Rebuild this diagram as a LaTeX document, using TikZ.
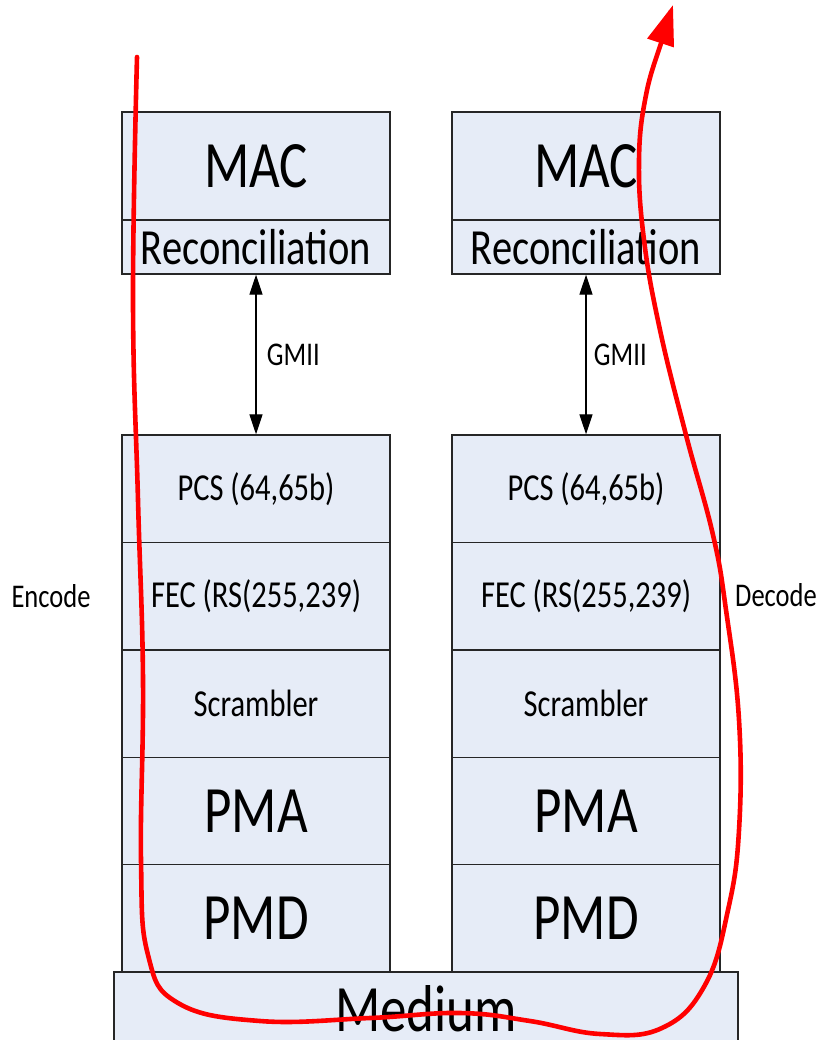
\documentclass[tikz,border=0pt]{standalone}
\usepackage{fontspec}
\setmainfont{Carlito}
\usetikzlibrary{arrows.meta}
\definecolor{layerfill}{RGB}{230,236,247}
\newcommand{\tallText}[1]{\scalebox{1}[1.25]{#1}}
\newcommand{\hugeSize}{\fontsize{53}{60}\selectfont}
\newcommand{\recSize}{\fontsize{40.5}{46}\selectfont}
\newcommand{\midSize}{\fontsize{30.5}{36}\selectfont}
\newcommand{\smallSize}{\fontsize{26.5}{32}\selectfont}

\begin{document}
\begin{tikzpicture}[x=1pt, y=-1pt,
	layer/.style={draw=black!85, line width=1.4pt, fill=layerfill, minimum width=268pt, inner sep=0pt},
	gmii/.style={line width=1.3pt, {Triangle[length=20pt,width=13pt]}-{Triangle[length=20pt,width=13pt]}},
	flow/.style={red, line width=4.6pt, line cap=round, -{Triangle[length=40pt,width=27pt]}}]
		\clip (0,0) rectangle (821,1040);
		%----------------------------------------------------
		% Left stack (encode side)
		%----------------------------------------------------
		\node[layer, minimum height=108pt, font=\hugeSize] (macL) at (256,166) {\tallText{MAC}};
		\node[layer, minimum height=54pt, font=\recSize] (recL) at (256,247) {\tallText{Reconciliation}};
		\node[layer, minimum height=107.4pt, font=\midSize] (pcsL) at (256,488.7) {\tallText{PCS (64,65b)}};
		\node[layer, minimum height=107.4pt, font=\midSize] (fecL) at (256,596.1) {\tallText{FEC (RS(255,239)}};
		\node[layer, minimum height=107.4pt, font=\midSize] (scrL) at (256,703.5) {\tallText{Scrambler}};
		\node[layer, minimum height=107.4pt, font=\hugeSize] (pmaL) at (256,810.9) {\tallText{PMA}};
		\node[layer, minimum height=107.4pt, font=\hugeSize] (pmdL) at (256,918.3) {\tallText{PMD}};
		
		%----------------------------------------------------
		% Right stack (decode side)
		%----------------------------------------------------
		\node[layer, minimum height=108pt, font=\hugeSize] (macR) at (586,166) {\tallText{MAC}};
		\node[layer, minimum height=54pt, font=\recSize] (recR) at (586,247) {\tallText{Reconciliation}};
		\node[layer, minimum height=107.4pt, font=\midSize] (pcsR) at (586,488.7) {\tallText{PCS (64,65b)}};
		\node[layer, minimum height=107.4pt, font=\midSize] (fecR) at (586,596.1) {\tallText{FEC (RS(255,239)}};
		\node[layer, minimum height=107.4pt, font=\midSize] (scrR) at (586,703.5) {\tallText{Scrambler}};
		\node[layer, minimum height=107.4pt, font=\hugeSize] (pmaR) at (586,810.9) {\tallText{PMA}};
		\node[layer, minimum height=107.4pt, font=\hugeSize] (pmdR) at (586,918.3) {\tallText{PMD}};
		
		\node[layer, minimum width=624pt, minimum height=74pt, font=\hugeSize] (medium) at (426,1009) {\tallText{Medium}};
		
		\node[font=\smallSize] (encode) at (51,596) {\tallText{Encode}};
		\node[font=\smallSize] (decode) at (776,595) {\tallText{Decode}};
		
		\draw[gmii] (recL) -- (pcsL) node (gmiiL) [midway, right=7pt, font=\smallSize] {\tallText{GMII}};
		\draw[gmii] (recR) -- (pcsR) node (gmiiR) [midway, right=4pt, font=\smallSize] {\tallText{GMII}};
		
		%\draw[red] (macL.north west) -- (pmdL.south west);
		
		%----------------------------------------------------
		% Data path: down through the encoder, up through the decoder
		%----------------------------------------------------
		\draw[flow] plot[smooth, tension=0.7] coordinates {(137,57) (133,300) (138,500) (143,680) (141,860) (148,955) (178,1003) (260,1021) (370,1018) (460,1013) (530,1021) (600,1034) (662,1028) (705,985) (728,910) (739,830) (739,720) (726,610) (713,535) (686,435) (660,330) (644,240) (639,160) (646,95) (662,40) (673,5)};
	\end{tikzpicture}
\end{document}
